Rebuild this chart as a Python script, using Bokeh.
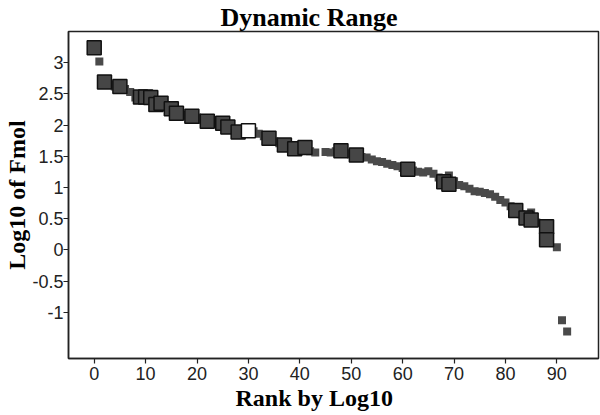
from bokeh.plotting import figure
from bokeh.models import ColumnDataSource, FixedTicker, Title
from bokeh.embed import file_html
from bokeh.resources import INLINE

# ---- data ----
rank = [0, 1, 2, 3, 4, 5, 6, 7, 8, 9, 10, 11, 12, 13, 14, 15, 16, 17, 18, 19,
        20, 21, 22, 23, 24, 25, 26, 27, 28, 29, 30, 31, 32, 33, 34, 35, 36, 37, 38, 39,
        40, 41, 42, 43, 45, 46, 47, 48, 49, 50, 51, 52, 53, 54, 55, 56, 57, 58, 59, 60,
        61, 62, 63, 64, 65, 66, 67, 68, 69, 69, 70, 71, 72, 73, 74, 75, 76, 77, 78, 79,
        80, 81, 82, 83, 84, 85, 85, 86, 88, 88, 90, 91, 92]
log_fmol = [3.24, 3.02, 2.69, 2.65, 2.62, 2.62, 2.58, 2.53, 2.44, 2.45, 2.45, 2.44, 2.33, 2.35, 2.28, 2.26, 2.19, 2.16, 2.15, 2.14,
            2.12, 2.08, 2.06, 2.05, 2.04, 2.03, 1.97, 1.92, 1.89, 1.88, 1.91, 1.90, 1.86, 1.82, 1.79, 1.74, 1.71, 1.68, 1.66, 1.62,
            1.62, 1.64, 1.58, 1.56, 1.57, 1.56, 1.58, 1.59, 1.55, 1.53, 1.52, 1.49, 1.48, 1.45, 1.42, 1.41, 1.38, 1.36, 1.34, 1.31,
            1.29, 1.27, 1.25, 1.24, 1.26, 1.22, 1.16, 1.09, 1.05, 1.19, 1.10, 1.04, 1.02, 0.98, 0.94, 0.93, 0.91, 0.89, 0.85, 0.80,
            0.76, 0.70, 0.63, 0.57, 0.51, 0.60, 0.48, 0.44, 0.37, 0.16, 0.04, -1.13, -1.31]
group = ["L", "S", "L", "S", "S", "L", "S", "S", "S", "L", "L", "L", "L", "L", "S", "L", "L", "S", "S", "L",
         "S", "S", "L", "S", "S", "L", "L", "S", "L", "S", "O", "S", "S", "S", "L", "S", "S", "L", "S", "L",
         "S", "L", "S", "S", "S", "S", "S", "L", "S", "S", "L", "S", "S", "S", "S", "S", "S", "S", "S", "S",
         "L", "S", "S", "S", "S", "S", "S", "L", "L", "S", "S", "S", "S", "S", "S", "S", "S", "S", "S", "S",
         "S", "S", "L", "S", "L", "S", "L", "S", "L", "L", "S", "S", "S"]

x_ticks = [0, 10, 20, 30, 40, 50, 60, 70, 80, 90]
y_ticks = [-1, -0.5, 0, 0.5, 1, 1.5, 2, 2.5, 3]
y_tick_labels = ["-1", "-0.5", "0", "0.5", "1", "1.5", "2", "2.5", "3"]

title_text = "Dynamic Range"
x_label = "Rank by Log10"
y_label = "Log10 of Fmol"

# ---- figure ----
p = figure(width=600, height=415, output_backend="svg", toolbar_location=None,
           x_range=(-5, 98.1), y_range=(-1.742, 3.50),
           min_border_left=68, min_border_right=2, min_border_top=27, min_border_bottom=57)
p.title.visible = False
p.grid.visible = False
p.background_fill_color = "white"
p.border_fill_color = "white"
p.outline_line_color = "#222222"
p.outline_line_width = 1.5

serif = "Liberation Serif"
sans = "Liberation Sans"

for ax in (p.xaxis[0], p.yaxis[0]):
    ax.axis_line_color = "#222222"
    ax.axis_line_width = 1.5
    ax.major_tick_line_color = "#222222"
    ax.major_tick_line_width = 1.2
    ax.major_tick_out = 5
    ax.major_tick_in = 0
    ax.minor_tick_line_color = None
    ax.major_label_text_font = sans
    ax.major_label_text_font_size = "18px"
    ax.major_label_text_color = "#222222"

p.xaxis.ticker = FixedTicker(ticks=x_ticks)
p.xaxis.major_label_standoff = 3
p.yaxis.ticker = FixedTicker(ticks=y_ticks)
p.yaxis.major_label_overrides = {t: s for t, s in zip(y_ticks, y_tick_labels)}
p.yaxis.major_label_standoff = 0

def subset(g):
    idx = [i for i, v in enumerate(group) if v == g]
    return ColumnDataSource(dict(x=[rank[i] for i in idx], y=[log_fmol[i] for i in idx]))

p.scatter("x", "y", source=subset("S"), marker="square", size=8,
          fill_color="#4a4a4a", line_color=None)
p.scatter("x", "y", source=subset("L"), marker="square", size=14,
          fill_color="#464646", line_color="#111111", line_width=1.5)
p.scatter("x", "y", source=subset("O"), marker="square", size=14,
          fill_color="white", line_color="#111111", line_width=1.5)

# titles placed in the side panels, offset from the frame edge
p.add_layout(Title(text=title_text, align="left", offset=152, standoff=0,
                   text_font=serif, text_font_style="bold", text_font_size="26px",
                   text_color="black"), "above")
p.add_layout(Title(text=x_label, align="left", offset=167, standoff=0,
                   text_font=serif, text_font_style="bold", text_font_size="24px",
                   text_color="black"), "below")
p.add_layout(Title(text=y_label, align="center", standoff=0,
                   text_font=serif, text_font_style="bold", text_font_size="24px",
                   text_color="black"), "left")

open("out.html", "w").write(file_html(p, INLINE))
